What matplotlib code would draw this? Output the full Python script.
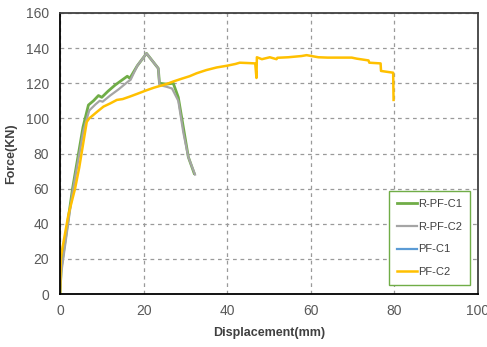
import matplotlib
matplotlib.use("Agg")
import matplotlib.pyplot as plt

plt.rcParams["font.family"] = ["Liberation Sans", "DejaVu Sans"]

# R-PF-C1 (green)
rpf_c1_x = [0, 0.3, 3.0, 5.5, 6.8, 8.0, 9.2, 10.0, 11.5, 13.2, 16.1, 16.7, 18.5,
            20.7, 23.5, 23.8, 25.5, 27.1, 28.3, 29.5, 30.7, 32.1]
rpf_c1_y = [0, 15, 60, 95, 107.6, 110, 113, 112, 115.5, 119, 124, 122.8, 130,
            137, 128.5, 120, 119.5, 120, 112, 95, 78, 68.7]

# R-PF-C2 (grey)
rpf_c2_x = [0, 0.3, 3.0, 5.6, 7.0, 8.5, 9.5, 10.2, 12.0, 14.0, 16.3, 16.9, 18.5,
            20.7, 23.5, 23.8, 25.5, 26.8, 28.3, 29.5, 30.7, 32.3]
rpf_c2_y = [0, 12, 58, 93, 104.5, 108, 110, 109.5, 113, 116.5, 121, 122, 130,
            137, 128.5, 119, 118, 117, 110, 92, 78, 68]

# PF-C1 (blue) - not visible in the picture
pf_c1_x = []
pf_c1_y = []

# PF-C2 (yellow)
pf_c2_x = [0, 0.2, 0.5, 2.0, 3.6, 4.6, 5.5, 6.4, 7.0, 8.0, 9.0, 10.4, 12.0, 13.6,
           15.0, 16.7, 18.5, 20.7, 22.5, 24.7, 26.0, 27.1, 29.0, 31.0, 32.7, 35.0,
           37.5, 40.0, 42.0, 43.0, 45.0, 46.7, 47.0, 47.1, 48.3, 50.2, 51.8, 52.0,
           54.6, 57.8, 59.0, 61.8, 64.0, 66.2, 69.8, 71.0, 73.8, 74.0, 76.7, 76.8,
           79.7, 79.8]
pf_c2_y = [0, 20, 25, 45, 60, 72, 85, 98, 100, 102, 104, 106.7, 108.5, 110.5,
           111, 112.4, 114, 116, 117.5, 119, 120, 121, 122.5, 124, 125.7, 127.5,
           129, 130, 131, 131.7, 131.5, 131.3, 123, 134.8, 133.7, 134.8, 133.7, 134.5,
           134.8, 135.5, 136, 134.8, 134.6, 134.6, 134.6, 134, 133, 131.7, 131.3, 127,
           126, 110.5]

fig = plt.figure(figsize=(4.87, 3.47), dpi=100)
ax = fig.add_axes([60 / 487, 1 - 294 / 347, 418 / 487, 281 / 347])

ax.plot(rpf_c1_x, rpf_c1_y, color="#70AD47", lw=2.0, label="R-PF-C1")
ax.plot(rpf_c2_x, rpf_c2_y, color="#A5A5A5", lw=1.6, label="R-PF-C2")
ax.plot(pf_c1_x, pf_c1_y, color="#5B9BD5", lw=1.6, label="PF-C1")
ax.plot(pf_c2_x, pf_c2_y, color="#FFC000", lw=1.8, label="PF-C2")

ax.set_xlim(0, 100)
ax.set_ylim(0, 160)
ax.set_xticks(range(0, 101, 20))
ax.set_yticks(range(0, 161, 20))
ax.grid(True, color="#9a9a9a", linestyle=(0, (3, 3)), lw=0.9)
ax.set_axisbelow(True)
ax.tick_params(length=0, labelsize=10, colors="#595959")
ax.tick_params(axis="y", pad=8)
ax.tick_params(axis="x", pad=7)

ax.spines["left"].set_color("black")
ax.spines["bottom"].set_color("black")
ax.spines["top"].set_color("#404040")
ax.spines["right"].set_color("#404040")
for s in ax.spines.values():
    s.set_linewidth(1.3)

ax.set_xlabel("Displacement(mm)", fontsize=9, fontweight="bold", color="#404040", labelpad=7)
ax.set_ylabel("Force(KN)", fontsize=9, fontweight="bold", color="#404040", labelpad=6)

leg = ax.legend(loc="lower right", bbox_to_anchor=(0.981, 0.032), fontsize=8,
                fancybox=False, framealpha=1, edgecolor="#70AD47",
                labelspacing=1.15, handlelength=1.8, handletextpad=0.15,
                borderpad=0.7, borderaxespad=0)
leg.get_frame().set_linewidth(1.0)
for t in leg.get_texts():
    t.set_color("#404040")

fig.savefig("out.png", dpi=100)
